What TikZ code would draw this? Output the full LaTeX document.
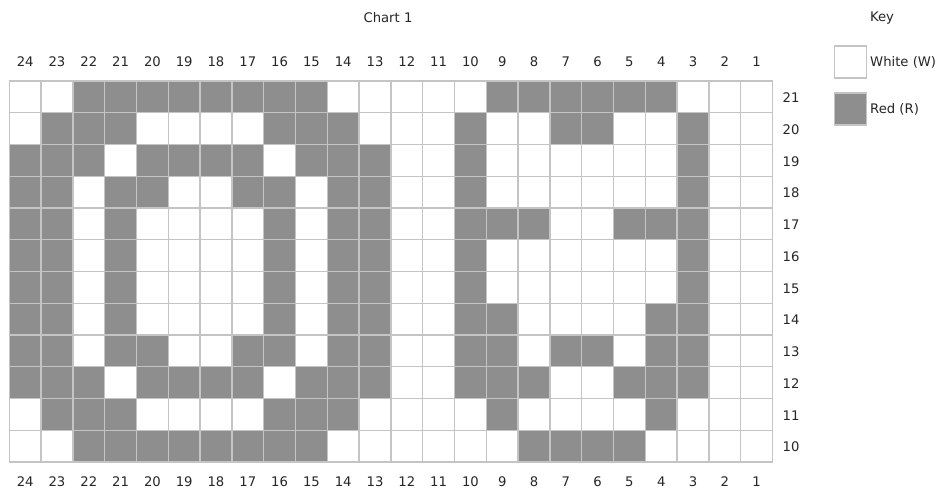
\documentclass[tikz,border=0pt]{standalone}
\usepackage{fontspec}
\setmainfont{DejaVu Sans}
\definecolor{redcell}{HTML}{8E8E8E}
\definecolor{gridline}{HTML}{C4C4C4}
\begin{document}
\begin{tikzpicture}[x=1pt,y=-1pt,
  lbl/.style={font=\fontsize{13.2}{15}\selectfont, text=black!85, inner sep=0pt},
  gridln/.style={draw=gridline, line width=1.4pt},
  redfill/.style={fill=redcell}]
\useasboundingbox (0,0) rectangle (937,491);
\fill[white] (0,0) rectangle (937,491);
\def\gx{9.3}\def\gy{81}\def\cw{31.8}\def\ch{31.75}
% red cells
\foreach \r/\cs in {0/{3,4,5,6,7,8,9,10,16,17,18,19,20,21},
  1/{2,3,4,9,10,11,15,18,19,22},
  2/{1,2,3,5,6,7,8,10,11,12,15,22},
  3/{1,2,4,5,8,9,11,12,15,22},
  4/{1,2,4,9,11,12,15,16,17,20,21,22},
  5/{1,2,4,9,11,12,15,22},
  6/{1,2,4,9,11,12,15,22},
  7/{1,2,4,9,11,12,15,16,21,22},
  8/{1,2,4,5,8,9,11,12,15,16,18,19,21,22},
  9/{1,2,3,5,6,7,8,10,11,12,15,16,17,20,21,22},
  10/{2,3,4,9,10,11,16,21},
  11/{3,4,5,6,7,8,9,10,17,18,19,20}}{
  \foreach \c in \cs {
    \fill[redfill] ({\gx+(\c-1)*\cw},{\gy+\r*\ch}) rectangle +(\cw,\ch);
  }
}
% grid lines
\foreach \i in {0,...,24} {
  \draw[gridln] ({\gx+\i*\cw},\gy) -- ({\gx+\i*\cw},{\gy+12*\ch});
}
\foreach \j in {0,...,12} {
  \draw[gridln] (\gx,{\gy+\j*\ch}) -- ({\gx+24*\cw},{\gy+\j*\ch});
}
% column labels
\foreach \k in {1,...,24} {
  \pgfmathtruncatemacro{\lab}{25-\k}
  \node[lbl] (top\k) at ({\gx+(\k-0.5)*\cw},62) {\lab};
  \node[lbl] (bot\k) at ({\gx+(\k-0.5)*\cw},482) {\lab};
}
% row labels
\foreach \r in {0,...,11} {
  \pgfmathtruncatemacro{\lab}{21-\r}
  \node[lbl, anchor=west] (row\r) at (782.5,{\gy+(\r+0.5)*\ch+1}) {\lab};
}
% title
\node[lbl] (title) at (388,18) {Chart 1};
% key
\node[lbl] (keytitle) at (882,18) {Key};
\draw[gridln, fill=white] (834.5,46) rectangle (866.5,78);
\node[lbl, anchor=west] (keyw) at (870,62.5) {White (W)};
\draw[gridln, fill=redcell] (834.5,93) rectangle (866.5,125);
\node[lbl, anchor=west] (keyr) at (870,109.5) {Red (R)};
\end{tikzpicture}
\end{document}
